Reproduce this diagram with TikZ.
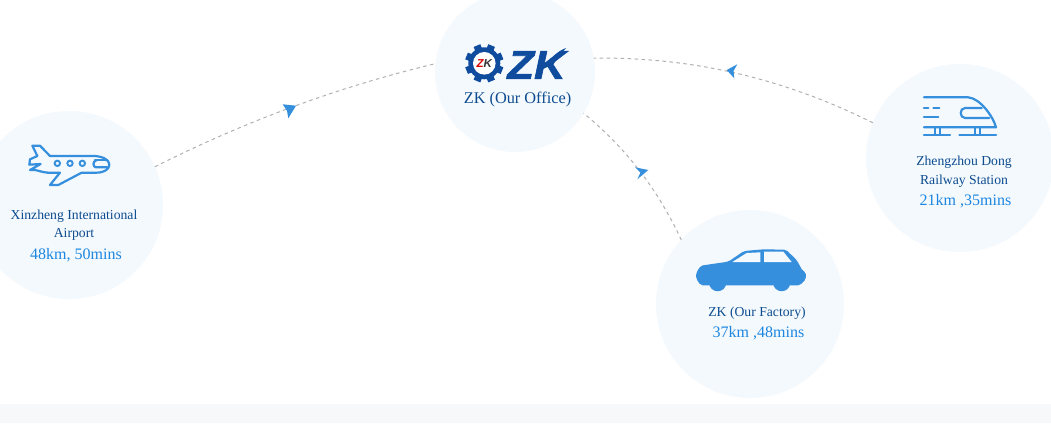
\documentclass[tikz,border=0pt]{standalone}
\usepackage{fontspec}
\setmainfont{Liberation Serif}
\newfontfamily\logofont{Liberation Sans}
\newfontfamily\logoheavy[FakeBold=1.6]{Liberation Sans Bold Italic}
\definecolor{disc}{HTML}{F4F9FE}
\definecolor{band}{HTML}{F7F8F9}
\definecolor{navy}{HTML}{0D4C8F}
\definecolor{sky}{HTML}{1C86E0}
\definecolor{icon}{HTML}{358FDD}
\definecolor{logo}{HTML}{0F4C9E}
\definecolor{dashc}{HTML}{B0B0B0}
\tikzset{
  disc/.style={circle,fill=disc,draw=none,inner sep=0pt,outer sep=0pt,minimum size=#1},
  route/.style={draw=dashc,line width=1pt,dash pattern=on 3.5pt off 3.5pt},
  plane/.style={fill=icon,draw=none},
  namelabel/.style={text=navy,inner sep=0pt,font=\fontsize{13.7}{15}\selectfont},
  timelabel/.style={text=sky,inner sep=0pt,font=\fontsize{16}{18}\selectfont},
  iconline/.style={draw=icon,line width=2.2pt,line cap=round,line join=round},
}
\begin{document}
\begin{tikzpicture}[x=1pt,y=-1pt]
\clip (0,0) rectangle (1051,423);
\fill[white] (0,0) rectangle (1051,423);
\fill[band] (0,404) rectangle (1051,423);
% discs
\node[disc=160pt] (office) at (515,72) {};
\node[disc=188pt] (airport) at (69,205) {};
\node[disc=188pt] (factory) at (750,304) {};
\node[disc=188pt] (station) at (960,158) {};
% routes
\draw[route] (airport.24) .. controls (246,121) and (338,87) .. (office.174);
\draw[route] (station.158) .. controls (785,79) and (694,57) .. (office.10);
\draw[route] (factory.137) .. controls (658,190) and (627,149) .. (office.-31);
% direction markers
\fill[plane] (282.7,104.3) -- (296,105.7) -- (288.3,118.3) -- (287,110.8) -- cycle;
\fill[plane] (737.3,64.3) -- (726.7,70) -- (734.3,78.3) -- (733.5,71) -- cycle;
\fill[plane] (635,167.3) -- (648.3,170) -- (637.3,179.3) -- (640.5,172.5) -- cycle;
% logo gear
\begin{scope}[shift={(484.3,63.3)}]
  \foreach \a in {0,45,...,315}{
    \fill[logo,rotate=\a+22.5] (-3.6,-19.2) rectangle (3.6,-13);
  }
  \fill[logo] (0,0) circle (16pt);
  \fill[white] (0,0) circle (11.3pt);
\end{scope}
\node[inner sep=0pt,font=\logofont\bfseries\itshape\fontsize{11.5}{12}\selectfont] (gearmark) at (484.3,63.5) {\textcolor{red!85!black}{Z}\textcolor{black!80}{K}};
\node[inner sep=0pt,text=logo,xscale=1.09,font=\logoheavy\fontsize{40}{41}\selectfont] (logomark) at (536.5,65) {ZK};
\fill[logo] (544,66) .. controls (552,57) and (558,51) .. (566,48) .. controls (561,54) and (556,60) .. (551,68) -- cycle;
% office label
\node[namelabel,font=\fontsize{16.3}{18}\selectfont] (officename) at (517.5,99.5) {ZK (Our Office)};
% airport
\node[namelabel] (airportname) at (74,216) {Xinzheng International};
\node[namelabel] (airportname2) at (74,234.5) {Airport};
\node[timelabel] (airporttime) at (76,255) {48km, 50mins};
% factory
\node[namelabel] (factoryname) at (757,313) {ZK (Our Factory)};
\node[timelabel] (factorytime) at (758.5,333) {37km ,48mins};
% station
\node[namelabel] (stationname) at (964,162) {Zhengzhou Dong};
\node[namelabel] (stationname2) at (964,181) {Railway Station};
\node[timelabel] (stationtime) at (965.5,201) {21km ,35mins};
% plane icon
\begin{scope}[shift={(0,130)},x=0.3333pt,y=-0.3333pt]
  \draw[iconline] (112,78) -- (97,47) -- (120,47) -- (150,78) -- (285,78)
     .. controls (310,80) and (328,90) .. (328,104) .. controls (328,118) and (312,128) .. (290,128) -- (245,128)
     -- (175,165) -- (150,165) -- (180,128) -- (142,128);
  \draw[iconline] (142,128) .. controls (125,126) and (115,122) .. (105,120) -- (90,120) -- (122,102) -- (88,104) -- (90,88) -- (112,78);
  \draw[iconline] (285,90) -- (322,90);
  \draw[iconline] (322,112) -- (288,112) .. controls (278,112) and (278,92) .. (288,92);
  \foreach \p in {172,210,247}{\draw[icon,line width=1.9pt] (\p,100) circle (2.7pt);}
\end{scope}
% car icon
\begin{scope}[shift={(680,235)},x=0.3333pt,y=-0.3333pt]
  \fill[icon,rounded corners=2pt] (48,115) -- (62,92) -- (145,80) -- (192,48) -- (250,43) -- (318,44)
    -- (350,75) -- (368,108) -- (378,112) -- (378,132) -- (360,151) -- (62,151) -- (48,130) -- cycle;
  \fill[icon] (113,143) circle (8.6pt);
  \fill[icon] (305,143) circle (8.6pt);
  \fill[disc] (157,81) -- (200,54) -- (241,52) -- (241,81) -- cycle;
  \fill[disc] (252,81) -- (252,50) -- (310,50) -- (335,81) -- cycle;
\end{scope}
% train icon
\begin{scope}[shift={(900,85)},x=0.3333pt,y=-0.3333pt]
  \draw[iconline] (72,37) -- (205,37) .. controls (240,40) and (280,95) .. (288,127) -- (72,127);
  \draw[iconline] (72,69) -- (85,69);
  \draw[iconline] (100,69) -- (118,69);
  \draw[iconline] (72,97) -- (115,97);
  \draw[iconline] (245,69) -- (195,69) .. controls (178,69) and (178,99) .. (195,99) -- (268,99);
  \draw[iconline] (72,151) -- (150,151);
  \draw[iconline] (178,151) -- (288,151);
  \foreach \p in {105,120,225,240}{\draw[iconline] (\p,130) -- (\p,150);}
\end{scope}
\end{tikzpicture}
\end{document}
